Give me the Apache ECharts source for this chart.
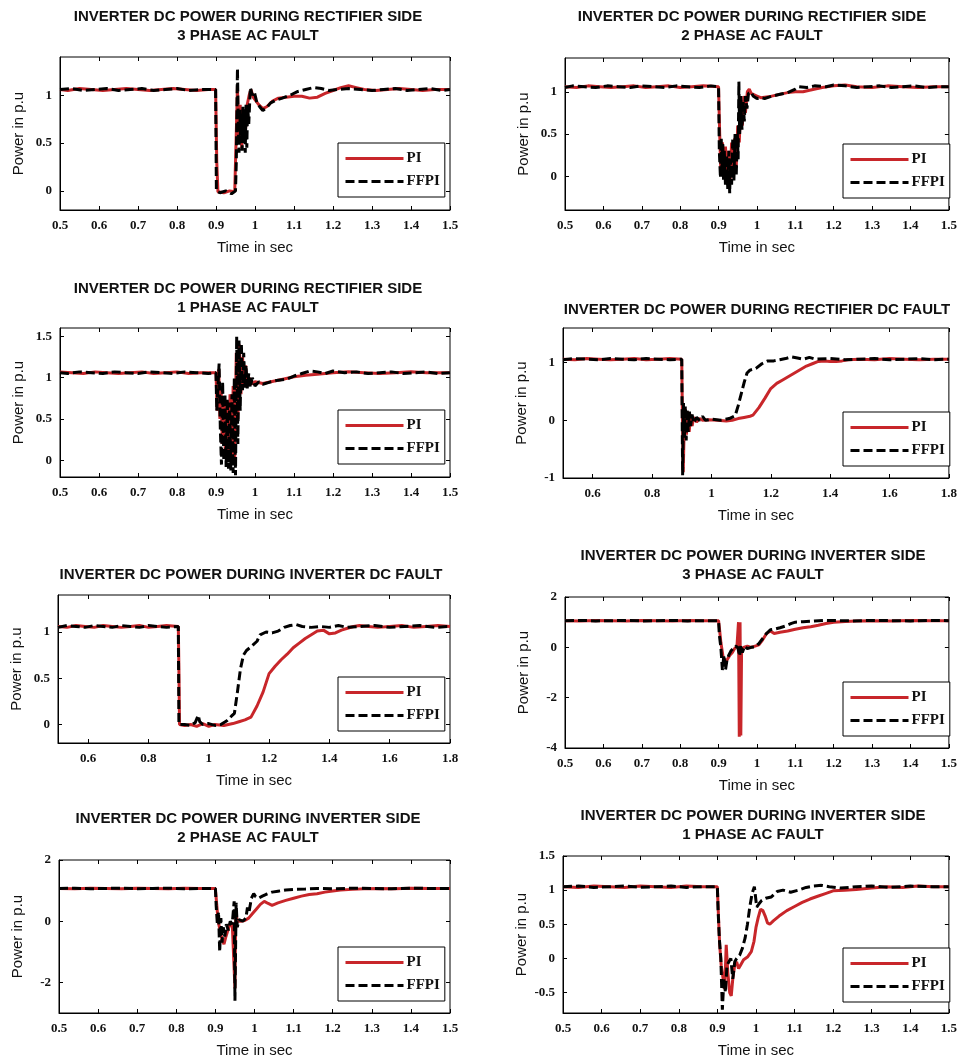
<!DOCTYPE html>
<html>
<head>
<meta charset="utf-8">
<script src="https://cdn.jsdelivr.net/npm/echarts@6/dist/echarts.min.js"></script>
<style>
  html, body { margin: 0; padding: 0; background: #fff; }
  #main { width: 960px; height: 1063px; }
</style>
</head>
<body>
<div id="main"></div>
<script>
// 标题
const titles = [
  'INVERTER DC POWER DURING RECTIFIER SIDE\n3 PHASE AC FAULT',
  'INVERTER DC POWER DURING RECTIFIER SIDE\n2 PHASE AC FAULT',
  'INVERTER DC POWER DURING RECTIFIER SIDE\n1 PHASE AC FAULT',
  'INVERTER DC POWER DURING RECTIFIER DC FAULT',
  'INVERTER DC POWER DURING INVERTER DC FAULT',
  'INVERTER DC POWER DURING INVERTER SIDE\n3 PHASE AC FAULT',
  'INVERTER DC POWER DURING INVERTER SIDE\n2 PHASE AC FAULT',
  'INVERTER DC POWER DURING INVERTER SIDE\n1 PHASE AC FAULT'
];
const seriesNames = ['PI', 'FFPI'];

// 刻度
const xTicksShort = [0.5, 0.6, 0.7, 0.8, 0.9, 1, 1.1, 1.2, 1.3, 1.4, 1.5];
const xTicksLong = [0.6, 0.8, 1, 1.2, 1.4, 1.6, 1.8];
const yTicks1 = [0, 0.5, 1];
const yTicks3 = [0, 0.5, 1, 1.5];
const yTicks4 = [-1, 0, 1];
const yTicks6 = [-4, -2, 0, 2];
const yTicks7 = [-2, 0, 2];
const yTicks8 = [-0.5, 0, 0.5, 1, 1.5];

// 数据 [时间, 功率]
const p1PI = [[0.5,1.06],[0.52,1.05],[0.55,1.07],[0.58,1.06],[0.61,1.05],[0.64,1.06],[0.67,1.07],[0.7,1.06],[0.73,1.05],[0.76,1.06],[0.79,1.07],[0.82,1.06],[0.85,1.05],[0.88,1.06],[0.899,1.06],[0.902,0.3],[0.905,-0.01],[0.92,-0.02],[0.935,0.0],[0.948,-0.01],[0.952,0.6],[0.955,1.1],[0.958,0.5],[0.962,0.9],[0.966,0.45],[0.97,0.85],[0.975,0.6],[0.98,0.9],[0.985,1.0],[0.99,1.06],[0.995,0.98],[1.0,1.0],[1.01,0.9],[1.02,0.86],[1.03,0.88],[1.045,0.94],[1.06,0.97],[1.08,0.98],[1.1,0.99],[1.12,0.99],[1.14,0.97],[1.16,0.98],[1.18,1.02],[1.2,1.05],[1.22,1.08],[1.24,1.1],[1.26,1.08],[1.28,1.06],[1.31,1.05],[1.34,1.06],[1.37,1.07],[1.4,1.06],[1.43,1.05],[1.46,1.06],[1.5,1.06]];
const p1FF = [[0.5,1.06],[0.53,1.07],[0.56,1.05],[0.59,1.06],[0.62,1.07],[0.65,1.05],[0.68,1.06],[0.71,1.07],[0.74,1.05],[0.77,1.06],[0.8,1.07],[0.83,1.05],[0.86,1.06],[0.899,1.06],[0.901,0.0],[0.91,-0.02],[0.925,0.0],[0.94,-0.03],[0.95,0.0],[0.952,0.3],[0.955,1.28],[0.957,0.7],[0.959,0.4],[0.961,0.85],[0.963,0.5],[0.965,0.8],[0.967,0.42],[0.969,0.88],[0.971,0.5],[0.973,0.85],[0.975,0.4],[0.977,0.9],[0.979,0.45],[0.981,0.9],[0.984,0.7],[0.988,1.08],[0.993,1.0],[0.998,1.04],[1.005,0.92],[1.012,0.88],[1.02,0.84],[1.03,0.87],[1.04,0.92],[1.055,0.95],[1.07,0.97],[1.09,1.0],[1.11,1.04],[1.13,1.06],[1.15,1.08],[1.17,1.07],[1.19,1.05],[1.21,1.06],[1.24,1.07],[1.27,1.06],[1.3,1.05],[1.33,1.06],[1.36,1.07],[1.39,1.05],[1.42,1.06],[1.45,1.07],[1.48,1.05],[1.5,1.06]];

const p2PI = [[0.5,1.06],[0.53,1.05],[0.56,1.07],[0.59,1.06],[0.62,1.05],[0.65,1.06],[0.68,1.07],[0.71,1.05],[0.74,1.06],[0.77,1.07],[0.8,1.05],[0.83,1.06],[0.86,1.07],[0.9,1.06],[0.903,0.5],[0.906,0.05],[0.91,0.4],[0.914,0.1],[0.918,0.35],[0.922,0.0],[0.926,0.3],[0.93,-0.05],[0.934,0.4],[0.938,0.05],[0.942,0.45],[0.946,0.1],[0.95,0.6],[0.954,0.4],[0.958,0.9],[0.962,0.6],[0.966,0.95],[0.97,0.75],[0.975,1.0],[0.98,1.03],[0.985,0.98],[0.99,1.0],[1.0,0.95],[1.01,0.93],[1.03,0.94],[1.05,0.96],[1.08,0.99],[1.1,1.0],[1.12,1.0],[1.14,1.02],[1.17,1.05],[1.2,1.07],[1.23,1.08],[1.26,1.06],[1.3,1.05],[1.34,1.07],[1.38,1.06],[1.42,1.05],[1.46,1.06],[1.5,1.06]];
const p2FF = [[0.5,1.05],[0.52,1.07],[0.55,1.06],[0.58,1.05],[0.61,1.07],[0.64,1.06],[0.67,1.05],[0.7,1.07],[0.73,1.06],[0.76,1.05],[0.79,1.07],[0.82,1.06],[0.85,1.05],[0.88,1.07],[0.9,1.06],[0.902,0.3],[0.905,-0.02],[0.907,0.45],[0.909,0.05],[0.911,0.4],[0.913,-0.05],[0.915,0.3],[0.918,-0.1],[0.921,0.25],[0.924,-0.15],[0.927,0.3],[0.929,-0.2],[0.931,0.2],[0.934,-0.1],[0.937,0.45],[0.94,-0.05],[0.943,0.5],[0.946,0.0],[0.949,0.5],[0.951,0.2],[0.953,1.12],[0.955,0.5],[0.958,0.95],[0.961,0.55],[0.964,0.9],[0.967,0.65],[0.97,0.95],[0.974,0.8],[0.978,0.98],[0.985,1.0],[0.99,0.95],[1.0,0.92],[1.01,0.93],[1.02,0.92],[1.04,0.95],[1.06,0.97],[1.08,0.99],[1.1,1.03],[1.11,1.06],[1.13,1.05],[1.15,1.07],[1.18,1.06],[1.2,1.08],[1.23,1.07],[1.26,1.05],[1.29,1.06],[1.32,1.07],[1.35,1.05],[1.38,1.06],[1.41,1.07],[1.44,1.05],[1.47,1.06],[1.5,1.06]];

const p3PI = [[0.5,1.07],[0.53,1.06],[0.56,1.05],[0.59,1.07],[0.62,1.06],[0.65,1.05],[0.68,1.06],[0.71,1.07],[0.74,1.05],[0.77,1.06],[0.8,1.07],[0.83,1.05],[0.86,1.06],[0.9,1.06],[0.903,0.6],[0.907,1.1],[0.91,0.5],[0.913,0.9],[0.916,0.2],[0.92,0.75],[0.924,0.1],[0.928,0.7],[0.932,0.0],[0.936,0.8],[0.94,-0.05],[0.944,0.9],[0.948,0.0],[0.952,1.3],[0.956,0.5],[0.96,1.4],[0.964,0.8],[0.968,1.25],[0.972,0.9],[0.976,1.15],[0.98,0.9],[0.985,1.0],[0.99,0.92],[1.0,0.95],[1.02,0.93],[1.05,0.96],[1.08,0.99],[1.1,1.01],[1.13,1.03],[1.16,1.04],[1.2,1.06],[1.24,1.07],[1.28,1.06],[1.32,1.05],[1.36,1.06],[1.4,1.07],[1.44,1.06],[1.5,1.06]];
const p3FF = [[0.5,1.06],[0.52,1.05],[0.55,1.07],[0.58,1.06],[0.61,1.05],[0.64,1.07],[0.67,1.06],[0.7,1.05],[0.73,1.07],[0.76,1.06],[0.79,1.05],[0.82,1.07],[0.85,1.06],[0.88,1.05],[0.9,1.06],[0.902,0.6],[0.905,0.9],[0.908,1.17],[0.911,0.4],[0.914,-0.05],[0.917,0.95],[0.92,0.0],[0.923,0.8],[0.926,-0.08],[0.929,0.75],[0.932,-0.1],[0.935,0.7],[0.938,-0.12],[0.941,0.8],[0.944,-0.15],[0.947,1.0],[0.95,-0.18],[0.953,1.5],[0.956,0.2],[0.959,1.45],[0.962,0.6],[0.965,1.42],[0.968,0.85],[0.971,1.3],[0.974,0.88],[0.977,1.15],[0.98,0.87],[0.984,1.05],[0.988,0.88],[0.993,1.0],[1.0,0.9],[1.01,0.95],[1.02,0.92],[1.04,0.95],[1.06,0.97],[1.08,0.98],[1.1,1.02],[1.12,1.05],[1.14,1.08],[1.16,1.07],[1.18,1.05],[1.2,1.08],[1.23,1.06],[1.26,1.07],[1.29,1.05],[1.32,1.06],[1.35,1.07],[1.38,1.05],[1.41,1.06],[1.44,1.07],[1.47,1.05],[1.5,1.06]];

const p4PI = [[0.5,1.06],[0.54,1.05],[0.58,1.07],[0.62,1.06],[0.66,1.05],[0.7,1.06],[0.74,1.07],[0.78,1.05],[0.82,1.06],[0.86,1.07],[0.9,1.06],[0.902,0.2],[0.905,-0.9],[0.908,-0.2],[0.912,0.2],[0.916,-0.25],[0.92,0.15],[0.925,-0.2],[0.93,0.1],[0.935,-0.1],[0.94,0.05],[0.95,-0.03],[0.96,0.03],[0.97,0.0],[0.99,0.01],[1.02,0.0],[1.05,-0.01],[1.07,0.0],[1.09,0.03],[1.11,0.05],[1.13,0.07],[1.14,0.09],[1.16,0.22],[1.18,0.38],[1.2,0.55],[1.22,0.64],[1.24,0.7],[1.26,0.76],[1.28,0.82],[1.3,0.88],[1.32,0.94],[1.34,0.98],[1.36,1.02],[1.38,1.03],[1.4,1.02],[1.42,1.02],[1.44,1.03],[1.46,1.05],[1.5,1.06],[1.55,1.05],[1.6,1.07],[1.65,1.06],[1.7,1.05],[1.75,1.06],[1.8,1.06]];
const p4FF = [[0.5,1.05],[0.54,1.07],[0.58,1.06],[0.62,1.05],[0.66,1.07],[0.7,1.06],[0.74,1.05],[0.78,1.07],[0.82,1.06],[0.86,1.05],[0.9,1.06],[0.903,-0.95],[0.906,0.3],[0.909,-0.3],[0.912,0.25],[0.915,-0.35],[0.918,0.2],[0.922,-0.2],[0.926,0.15],[0.93,-0.1],[0.935,0.1],[0.94,-0.05],[0.95,0.05],[0.96,0.0],[0.97,0.07],[0.98,0.0],[1.0,0.02],[1.03,0.0],[1.06,0.03],[1.08,0.08],[1.09,0.25],[1.1,0.45],[1.11,0.65],[1.12,0.82],[1.13,0.87],[1.15,0.9],[1.17,0.98],[1.19,1.03],[1.21,1.03],[1.23,1.05],[1.25,1.07],[1.27,1.1],[1.29,1.08],[1.31,1.06],[1.33,1.09],[1.35,1.06],[1.4,1.07],[1.45,1.05],[1.5,1.06],[1.55,1.07],[1.6,1.05],[1.65,1.06],[1.7,1.07],[1.75,1.05],[1.8,1.06]];

const p5PI = [[0.5,1.06],[0.53,1.05],[0.56,1.07],[0.59,1.06],[0.62,1.05],[0.65,1.07],[0.68,1.06],[0.71,1.05],[0.74,1.06],[0.77,1.07],[0.8,1.05],[0.83,1.06],[0.86,1.07],[0.899,1.06],[0.901,0.6],[0.903,0.0],[0.92,-0.01],[0.94,0.0],[0.96,-0.02],[0.98,0.01],[1.0,-0.02],[1.02,0.0],[1.05,-0.01],[1.08,0.01],[1.1,0.03],[1.12,0.05],[1.14,0.08],[1.16,0.2],[1.18,0.35],[1.2,0.55],[1.22,0.63],[1.24,0.7],[1.26,0.76],[1.28,0.83],[1.3,0.88],[1.32,0.93],[1.34,0.97],[1.36,1.01],[1.38,1.02],[1.4,0.98],[1.42,0.99],[1.44,1.02],[1.46,1.04],[1.48,1.06],[1.5,1.07],[1.53,1.06],[1.56,1.05],[1.6,1.06],[1.64,1.07],[1.68,1.05],[1.72,1.06],[1.76,1.07],[1.8,1.06]];
const p5FF = [[0.5,1.05],[0.53,1.07],[0.56,1.06],[0.59,1.05],[0.62,1.07],[0.65,1.06],[0.68,1.05],[0.71,1.07],[0.74,1.06],[0.77,1.05],[0.8,1.07],[0.83,1.06],[0.86,1.05],[0.899,1.06],[0.901,0.0],[0.92,0.0],[0.94,-0.01],[0.955,0.02],[0.965,0.1],[0.97,0.03],[0.98,0.0],[1.0,0.01],[1.02,-0.01],[1.04,0.0],[1.06,0.04],[1.075,0.09],[1.085,0.12],[1.095,0.35],[1.105,0.6],[1.115,0.75],[1.125,0.8],[1.14,0.84],[1.16,0.9],[1.17,0.97],[1.19,1.0],[1.21,0.99],[1.23,1.01],[1.25,1.05],[1.27,1.07],[1.29,1.08],[1.31,1.06],[1.34,1.05],[1.37,1.06],[1.4,1.05],[1.43,1.07],[1.46,1.05],[1.5,1.06],[1.55,1.07],[1.6,1.05],[1.65,1.06],[1.7,1.07],[1.75,1.05],[1.8,1.06]];

const p6PI = [[0.5,1.06],[0.54,1.05],[0.58,1.07],[0.62,1.06],[0.66,1.05],[0.7,1.07],[0.74,1.06],[0.78,1.05],[0.82,1.07],[0.86,1.06],[0.9,1.06],[0.902,0.8],[0.906,0.2],[0.912,-0.4],[0.918,-0.6],[0.924,-0.45],[0.93,-0.3],[0.936,-0.2],[0.942,-0.05],[0.948,0.05],[0.952,1.0],[0.954,-3.55],[0.956,1.0],[0.958,-3.5],[0.96,-0.1],[0.965,0.0],[0.975,0.05],[0.985,0.0],[0.995,0.05],[1.005,0.1],[1.015,0.3],[1.025,0.55],[1.035,0.65],[1.045,0.55],[1.06,0.6],[1.08,0.65],[1.1,0.72],[1.12,0.78],[1.14,0.82],[1.16,0.88],[1.18,0.95],[1.2,1.0],[1.23,1.03],[1.26,1.05],[1.3,1.06],[1.35,1.05],[1.4,1.07],[1.45,1.06],[1.5,1.06]];
const p6FF = [[0.5,1.06],[0.54,1.07],[0.58,1.05],[0.62,1.06],[0.66,1.07],[0.7,1.05],[0.74,1.06],[0.78,1.07],[0.82,1.05],[0.86,1.06],[0.9,1.06],[0.902,0.5],[0.906,0.0],[0.91,-0.9],[0.914,-0.3],[0.918,-0.9],[0.922,-0.5],[0.927,-0.3],[0.932,-0.15],[0.938,-0.05],[0.944,0.05],[0.95,0.0],[0.955,-0.35],[0.958,0.1],[0.962,-0.2],[0.968,0.05],[0.975,-0.05],[0.985,0.0],[0.995,0.02],[1.005,0.15],[1.015,0.35],[1.025,0.55],[1.035,0.7],[1.045,0.72],[1.06,0.78],[1.075,0.85],[1.09,0.95],[1.1,1.0],[1.12,1.02],[1.15,1.05],[1.18,1.07],[1.21,1.06],[1.25,1.05],[1.3,1.07],[1.35,1.06],[1.4,1.05],[1.45,1.07],[1.5,1.06]];

const p7PI = [[0.5,1.07],[0.54,1.06],[0.58,1.08],[0.62,1.07],[0.66,1.06],[0.7,1.08],[0.74,1.07],[0.78,1.06],[0.82,1.08],[0.86,1.07],[0.9,1.07],[0.903,0.6],[0.907,0.0],[0.912,-0.3],[0.917,-0.6],[0.922,-0.75],[0.927,-0.5],[0.932,-0.3],[0.937,-0.1],[0.943,-0.05],[0.948,0.0],[0.95,-2.2],[0.952,0.3],[0.956,0.0],[0.965,0.0],[0.975,0.02],[0.985,0.1],[0.995,0.25],[1.005,0.4],[1.015,0.55],[1.025,0.65],[1.035,0.58],[1.045,0.52],[1.06,0.6],[1.08,0.68],[1.1,0.75],[1.12,0.82],[1.14,0.87],[1.16,0.9],[1.18,0.95],[1.2,0.99],[1.22,1.02],[1.25,1.04],[1.28,1.06],[1.32,1.07],[1.36,1.06],[1.4,1.08],[1.45,1.07],[1.5,1.07]];
const p7FF = [[0.5,1.07],[0.54,1.08],[0.58,1.06],[0.62,1.07],[0.66,1.08],[0.7,1.06],[0.74,1.07],[0.78,1.08],[0.82,1.06],[0.86,1.07],[0.9,1.07],[0.902,0.5],[0.905,-0.1],[0.908,0.3],[0.911,-1.0],[0.914,0.1],[0.917,-0.7],[0.92,-0.2],[0.924,-0.5],[0.928,-0.1],[0.933,-0.3],[0.938,0.0],[0.943,-0.1],[0.948,0.65],[0.95,-2.6],[0.953,0.6],[0.956,-0.2],[0.96,0.05],[0.97,0.0],[0.978,0.1],[0.982,0.45],[0.986,0.3],[0.992,0.75],[0.998,0.9],[1.003,0.8],[1.01,0.75],[1.02,0.82],[1.03,0.88],[1.045,0.95],[1.06,0.98],[1.08,1.02],[1.1,1.04],[1.13,1.05],[1.16,1.07],[1.2,1.06],[1.25,1.08],[1.3,1.07],[1.35,1.06],[1.4,1.08],[1.45,1.07],[1.5,1.07]];

const p8PI = [[0.5,1.05],[0.54,1.04],[0.58,1.06],[0.62,1.05],[0.66,1.04],[0.7,1.06],[0.74,1.05],[0.78,1.04],[0.82,1.06],[0.86,1.05],[0.9,1.05],[0.903,0.6],[0.906,0.2],[0.91,-0.1],[0.915,-0.3],[0.919,-0.45],[0.923,0.2],[0.927,-0.2],[0.932,-0.5],[0.936,-0.55],[0.94,-0.3],[0.945,-0.1],[0.95,-0.05],[0.955,-0.15],[0.96,-0.1],[0.968,-0.02],[0.978,0.02],[0.988,0.1],[0.995,0.25],[1.0,0.45],[1.006,0.6],[1.012,0.72],[1.018,0.7],[1.024,0.62],[1.03,0.52],[1.036,0.5],[1.045,0.55],[1.06,0.62],[1.08,0.7],[1.1,0.76],[1.12,0.82],[1.14,0.87],[1.16,0.91],[1.18,0.95],[1.2,0.99],[1.23,1.0],[1.26,1.01],[1.3,1.03],[1.34,1.05],[1.38,1.04],[1.42,1.06],[1.46,1.05],[1.5,1.05]];
const p8FF = [[0.5,1.05],[0.54,1.06],[0.58,1.04],[0.62,1.05],[0.66,1.06],[0.7,1.04],[0.74,1.05],[0.78,1.06],[0.82,1.04],[0.86,1.05],[0.9,1.05],[0.902,0.7],[0.905,0.3],[0.909,0.0],[0.913,-0.75],[0.917,-0.3],[0.921,-0.5],[0.925,-0.1],[0.93,-0.05],[0.935,0.0],[0.94,-0.3],[0.945,-0.05],[0.95,0.0],[0.958,0.05],[0.965,0.15],[0.972,0.3],[0.978,0.5],[0.984,0.75],[0.99,0.95],[0.996,1.05],[1.002,0.75],[1.008,0.8],[1.015,0.85],[1.025,0.88],[1.04,0.9],[1.055,0.98],[1.07,1.0],[1.09,0.97],[1.11,1.0],[1.13,1.04],[1.15,1.06],[1.17,1.07],[1.19,1.05],[1.22,1.03],[1.26,1.05],[1.3,1.06],[1.35,1.04],[1.4,1.06],[1.45,1.05],[1.5,1.05]];

// 每个子图的设置
const panels = [
  { pi: p1PI, ff: p1FF, x: [0.5, 1.5], xt: xTicksShort, y: [-0.2, 1.4], yt: yTicks1 },
  { pi: p2PI, ff: p2FF, x: [0.5, 1.5], xt: xTicksShort, y: [-0.4, 1.4], yt: yTicks1 },
  { pi: p3PI, ff: p3FF, x: [0.5, 1.5], xt: xTicksShort, y: [-0.2, 1.6], yt: yTicks3 },
  { pi: p4PI, ff: p4FF, x: [0.5, 1.8], xt: xTicksLong, y: [-1, 1.6], yt: yTicks4 },
  { pi: p5PI, ff: p5FF, x: [0.5, 1.8], xt: xTicksLong, y: [-0.2, 1.4], yt: yTicks1 },
  { pi: p6PI, ff: p6FF, x: [0.5, 1.5], xt: xTicksShort, y: [-4, 2], yt: yTicks6 },
  { pi: p7PI, ff: p7FF, x: [0.5, 1.5], xt: xTicksShort, y: [-3, 2], yt: yTicks7 },
  { pi: p8PI, ff: p8FF, x: [0.5, 1.5], xt: xTicksShort, y: [-0.8, 1.5], yt: yTicks8 }
];

// 布局：网格、标题、图例位置
const layout = [
  { grid: [60, 57, 390, 153], title: [248, 7], legend: [338, 143] },
  { grid: [565, 58, 390, 152], title: [752, 7], legend: [843, 144] },
  { grid: [60, 328, 390, 149], title: [248, 279], legend: [338, 410] },
  { grid: [563, 328, 392, 150], title: [757, 300], legend: [843, 412] },
  { grid: [58, 595, 392, 148], title: [251, 565], legend: [338, 677] },
  { grid: [565, 597, 390, 151], title: [753, 546], legend: [843, 682] },
  { grid: [59, 860, 391, 153], title: [248, 809], legend: [338, 947] },
  { grid: [563, 856, 392, 157], title: [753, 806], legend: [843, 948] }
];

const tickFont = { fontFamily: 'Liberation Serif', fontWeight: 'bold', fontSize: 13, color: '#111' };
const nameFont = { fontFamily: 'Liberation Sans', fontSize: 15, color: '#111' };
const tickLine = { color: '#000' };

const option = { animation: false, backgroundColor: '#fff', title: [], legend: [], grid: [], xAxis: [], yAxis: [], series: [] };

panels.forEach((p, i) => {
  const L = layout[i];
  option.grid.push({
    left: L.grid[0], top: L.grid[1], width: L.grid[2], height: L.grid[3],
    show: true, borderColor: '#000', borderWidth: 1, backgroundColor: '#fff'
  });
  option.title.push({
    text: titles[i], left: L.title[0], top: L.title[1], textAlign: 'center', padding: 0,
    textStyle: { fontFamily: 'Liberation Sans', fontWeight: 'bold', fontSize: 15, lineHeight: 19, color: '#111' }
  });
  option.legend.push({
    data: seriesNames, orient: 'vertical', left: L.legend[0], top: L.legend[1],
    backgroundColor: '#fff', borderColor: '#000', borderWidth: 1, padding: [8, 5, 8, 6],
    itemGap: 8, itemWidth: 58, itemHeight: 14, selectedMode: false,
    itemStyle: { opacity: 0 }, lineStyle: { width: 3 },
    textStyle: { fontFamily: 'Liberation Serif', fontWeight: 'bold', fontSize: 15, color: '#111', padding: [0, 0, 0, -2] }
  });
  // 底部和左侧主坐标轴
  option.xAxis.push({
    type: 'value', gridIndex: i, min: p.x[0], max: p.x[1],
    name: 'Time in sec', nameLocation: 'middle', nameGap: 30, nameTextStyle: nameFont,
    axisLine: { show: true, onZero: false, lineStyle: tickLine },
    axisTick: { inside: true, length: 4, customValues: p.xt, lineStyle: tickLine },
    axisLabel: { customValues: p.xt, margin: 9, ...tickFont },
    splitLine: { show: false }
  });
  option.yAxis.push({
    type: 'value', gridIndex: i, min: p.y[0], max: p.y[1],
    name: 'Power in p.u', nameLocation: 'middle', nameGap: 34, nameTextStyle: nameFont,
    axisLine: { show: true, onZero: false, lineStyle: tickLine },
    axisTick: { inside: true, length: 4, customValues: p.yt, lineStyle: tickLine },
    axisLabel: { customValues: p.yt, margin: 8, ...tickFont },
    splitLine: { show: false }
  });
});

// 顶部和右侧的刻度
panels.forEach((p, i) => {
  option.xAxis.push({
    type: 'value', gridIndex: i, position: 'top', min: p.x[0], max: p.x[1],
    axisLine: { show: false, onZero: false }, axisLabel: { show: false }, splitLine: { show: false },
    axisTick: { inside: true, length: 4, customValues: p.xt, lineStyle: tickLine }
  });
  option.yAxis.push({
    type: 'value', gridIndex: i, position: 'right', min: p.y[0], max: p.y[1],
    axisLine: { show: false, onZero: false }, axisLabel: { show: false }, splitLine: { show: false },
    axisTick: { inside: true, length: 4, customValues: p.yt, lineStyle: tickLine }
  });
});

panels.forEach((p, i) => {
  option.series.push({
    name: 'PI', type: 'line', xAxisIndex: i, yAxisIndex: i, data: p.pi,
    symbol: 'none', clip: true, z: 2,
    lineStyle: { color: '#c8262a', width: 3 }, itemStyle: { color: '#c8262a' }
  });
  option.series.push({
    name: 'FFPI', type: 'line', xAxisIndex: i, yAxisIndex: i, data: p.ff,
    symbol: 'none', clip: true, z: 3,
    lineStyle: { color: '#000', width: 3, type: [9, 4] }, itemStyle: { color: '#000' }
  });
});

const chart = echarts.init(document.getElementById('main'));
chart.setOption(option);
</script>
</body>
</html>
